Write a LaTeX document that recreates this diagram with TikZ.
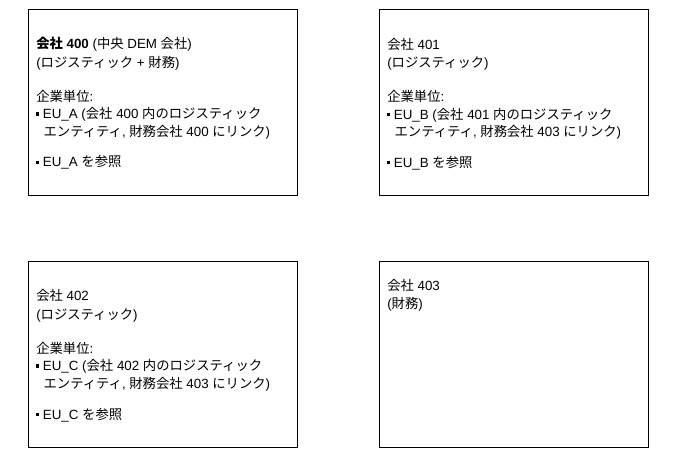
\documentclass[tikz,border=0pt]{standalone}
\usepackage{fontspec}
\setmainfont{Liberation Sans}
\newfontfamily\cjk{Noto Sans CJK JP}
\usepackage{tikz}
\usetikzlibrary{positioning}
\newcommand{\jp}[1]{{\cjk #1}}
\newcommand{\bul}{\makebox[5pt][l]{\rule[2.4pt]{2.3pt}{2.3pt}}}
\tikzset{unitbox/.style={draw, line width=0.75pt, minimum width=201.75pt, minimum height=139.5pt, inner sep=0pt}}
\tikzset{unitinfo/.style={anchor=base west, align=left, inner sep=0pt, font=\fontsize{10}{13.1}\selectfont}}

\begin{document}
\begin{tikzpicture}[x=0.75pt, y=-0.75pt]
      \useasboundingbox (0,0) rectangle (684,463);
      % vier Gesellschaften
      \node[unitbox] (c400) at (162.5,103) {};
      \node[unitbox] (c401) at (513.5,103) {};
      \node[unitbox] (c402) at (162.5,354) {};
      \node[unitbox] (c403) at (513.5,354) {};
      % Texte (base = letzte Zeile)
      \node[unitinfo] (t400) at ([shift={(8.5,157.5)}]c400.north west) {%
        \textbf{\jp{会社} 400} (\jp{中央} DEM \jp{会社})\\[0.75pt]
        (\jp{ロジスティック} + \jp{財務})\\[12.4pt]
        \jp{企業単位}:\\
        \bul EU\_A (\jp{会社} 400 \jp{内のロジスティック}\\
        \hspace*{5.5pt}\jp{エンティティ}, \jp{財務会社} 400 \jp{にリンク})\\[10pt]
        \bul EU\_A \jp{を参照}};
      \node[unitinfo] (t401) at ([shift={(8.5,158)}]c401.north west) {%
        \jp{会社} 401\\[0.75pt]
        (\jp{ロジスティック})\\[12.4pt]
        \jp{企業単位}:\\
        \bul EU\_B (\jp{会社} 401 \jp{内のロジスティック}\\
        \hspace*{5.5pt}\jp{エンティティ}, \jp{財務会社} 403 \jp{にリンク})\\[10pt]
        \bul EU\_B \jp{を参照}};
      \node[unitinfo] (t402) at ([shift={(8.5,158.5)}]c402.north west) {%
        \jp{会社} 402\\[0.75pt]
        (\jp{ロジスティック})\\[12.4pt]
        \jp{企業単位}:\\
        \bul EU\_C (\jp{会社} 402 \jp{内のロジスティック}\\
        \hspace*{5.5pt}\jp{エンティティ}, \jp{財務会社} 403 \jp{にリンク})\\[10pt]
        \bul EU\_C \jp{を参照}};
      \node[unitinfo] (t403) at ([shift={(8.5,47.5)}]c403.north west) {%
        \jp{会社} 403\\
        (\jp{財務})};
\end{tikzpicture}
\end{document}
